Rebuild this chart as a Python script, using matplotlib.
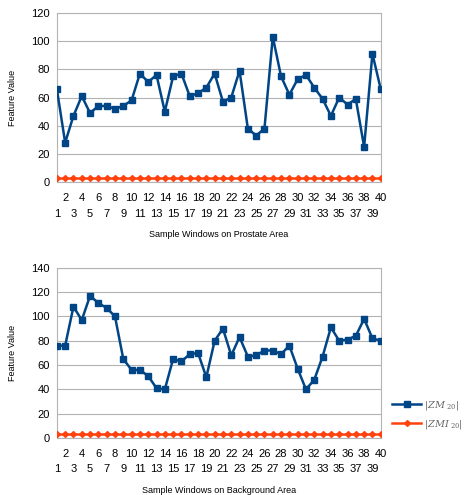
import matplotlib
matplotlib.use("Agg")
import matplotlib.pyplot as plt
from matplotlib.lines import Line2D

plt.rcParams['font.family'] = ['Liberation Sans', 'DejaVu Sans']
plt.rcParams['mathtext.fontset'] = 'dejavuserif'

windows = list(range(1, 41))

zm_prostate = [66, 28, 47, 61, 49, 54, 54, 52, 54, 58, 77, 71, 76, 50, 75, 77, 61, 63, 67, 77,
               57, 60, 79, 38, 33, 38, 103, 75, 62, 73, 76, 67, 59, 47, 60, 55, 59, 25, 91, 66]
zmi_prostate = [3] * 40

zm_background = [76, 76, 108, 97, 117, 111, 107, 100, 65, 56, 56, 51, 41, 40, 65, 63, 69, 70, 50, 80,
                 90, 68, 83, 67, 68, 72, 72, 69, 76, 57, 40, 48, 67, 91, 80, 81, 84, 98, 82, 80]
zmi_background = [3] * 40

xlabels = ["Sample Windows on Prostate Area", "Sample Windows on Background Area"]
ylabel = "Feature Value"
legend_labels = [r"$|ZM_{\ 20}|$", r"$|ZMI_{\ 20}|$"]

blue = "#004586"
orange = "#ff420e"
grid = "#b3b3b3"

fig = plt.figure(figsize=(4.66, 4.95), dpi=100)
ax1 = fig.add_axes([0.122, 0.632, 0.695, 0.342])
ax2 = fig.add_axes([0.122, 0.115, 0.695, 0.344])


def draw(ax, zm, zmi, ymax, xlabel):
    ax.plot(windows, zm, color=blue, lw=1.8, marker="s", ms=5, zorder=3)
    ax.plot(windows, zmi, color=orange, lw=1.8, marker="D", ms=3, zorder=3)
    ax.set_xlim(1, 40)
    ax.set_ylim(0, ymax)
    ax.set_yticks(range(0, ymax + 1, 20))
    ax.grid(axis="y", color=grid, lw=0.8)
    ax.set_axisbelow(True)
    for s in ax.spines.values():
        s.set_color(grid)
        s.set_linewidth(0.8)
    ax.set_xticks([w for w in windows if w % 2 == 0])
    ax.set_xticklabels([str(w) for w in windows if w % 2 == 0])
    ax.set_xticks([w for w in windows if w % 2 == 1], minor=True)
    ax.set_xticklabels([str(w) for w in windows if w % 2 == 1], minor=True)
    ax.tick_params(axis="x", which="major", length=0, pad=8, labelsize=8)
    ax.tick_params(axis="x", which="minor", length=0, pad=19, labelsize=8)
    ax.tick_params(axis="y", length=0, pad=5, labelsize=8)
    ax.set_xlabel(xlabel, fontsize=6.5, labelpad=8)
    ax.set_ylabel(ylabel, fontsize=6.5, labelpad=10)


draw(ax1, zm_prostate, zmi_prostate, 120, xlabels[0])
draw(ax2, zm_background, zmi_background, 140, xlabels[1])

handles = [Line2D([], [], color=blue, lw=1.8, marker="s", ms=5),
           Line2D([], [], color=orange, lw=1.8, marker="D", ms=3)]
fig.legend(handles, legend_labels, loc="center left", bbox_to_anchor=(0.838, 0.162),
           frameon=False, fontsize=7, handlelength=2.9, handletextpad=0.3,
           labelspacing=0.6, labelcolor="#666666", borderaxespad=0, borderpad=0.2)

fig.savefig("out.png", dpi=100, facecolor="white")
